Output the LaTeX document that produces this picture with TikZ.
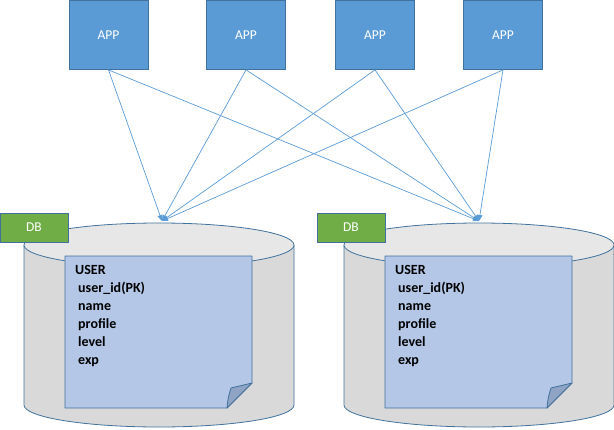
\documentclass[tikz,border=0pt]{standalone}
\usepackage{fontspec}
\setmainfont{Carlito}
\usetikzlibrary{arrows.meta}

\definecolor{appblue}{HTML}{5B9BD5}
\definecolor{edgeblue}{HTML}{41719C}
\definecolor{dbgreen}{HTML}{70AD47}
\definecolor{notefill}{HTML}{B4C7E7}
\definecolor{foldfill}{HTML}{8FA3C4}
\definecolor{cyltop}{HTML}{E7E7E7}
\definecolor{cylside}{HTML}{D9D9D9}

\tikzset{
  app/.style={draw=edgeblue, fill=appblue, text=white, line width=0.8pt,
    minimum width=79pt, minimum height=69pt, inner sep=0pt,
    font=\fontsize{13.5}{16}\selectfont},
  dblabel/.style={draw=edgeblue, fill=dbgreen, text=white, line width=0.8pt,
    minimum width=68pt, minimum height=29pt, inner sep=0pt,
    font=\fontsize{13.5}{16}\selectfont},
  link/.style={draw=appblue, line width=0.7pt, -{Triangle[length=6pt,width=5pt]}},
  cylline/.style={draw=edgeblue, line width=0.8pt},
  note/.style={draw=edgeblue, fill=notefill, line width=0.8pt, line join=round},
  fold/.style={draw=edgeblue, fill=foldfill, line width=0.8pt, line join=round},
  fields/.style={align=left, inner sep=0pt, anchor=north west,
    font=\bfseries\fontsize{14}{18}\selectfont},
}

\begin{document}
\begin{tikzpicture}[x=1pt,y=-1pt]
  \useasboundingbox (0,0) rectangle (614,429);

  % the four apps
  \node[app] (app1) at (108.5,35) {APP};
  \node[app] (app2) at (246,35)   {APP};
  \node[app] (app3) at (375,35)   {APP};
  \node[app] (app4) at (503,35)   {APP};

  % left database
  \fill[cylside] (24,245) -- (24,405)
    arc[start angle=180, end angle=360, x radius=135pt, y radius=22pt] -- (294,245) -- cycle;
  \draw[cylline] (24,245) -- (24,405)
    arc[start angle=180, end angle=360, x radius=135pt, y radius=22pt] -- (294,245);
  \draw[cylline, fill=cyltop] (159,245) ellipse [x radius=135pt, y radius=22pt];
  \filldraw[note] (65,256) -- (252,256) -- (252,383) -- (227,408) -- (65,408) -- cycle;
  \filldraw[fold] (227,408) .. controls (228,398) .. (231,388) .. controls (242,386) .. (252,383) -- cycle;
  \node[fields] (user1) at (75,265)
    {USER\\\hspace*{3pt}user\_id(PK)\\\hspace*{3pt}name\\\hspace*{3pt}profile\\\hspace*{3pt}level\\\hspace*{3pt}exp};
  \node[dblabel] (db1) at (34,227.5) {DB};
  \coordinate (in1) at (162,221);

  % right database
  \fill[cylside] (344,245) -- (344,405)
    arc[start angle=180, end angle=360, x radius=135pt, y radius=22pt] -- (614,245) -- cycle;
  \draw[cylline] (344,245) -- (344,405)
    arc[start angle=180, end angle=360, x radius=135pt, y radius=22pt] -- (614,245);
  \draw[cylline, fill=cyltop] (479,245) ellipse [x radius=135pt, y radius=22pt];
  \filldraw[note] (385,256) -- (572,256) -- (572,383) -- (547,408) -- (385,408) -- cycle;
  \filldraw[fold] (547,408) .. controls (548,398) .. (551,388) .. controls (562,386) .. (572,383) -- cycle;
  \node[fields] (user2) at (395,265)
    {USER\\\hspace*{3pt}user\_id(PK)\\\hspace*{3pt}name\\\hspace*{3pt}profile\\\hspace*{3pt}level\\\hspace*{3pt}exp};
  \node[dblabel] (db2) at (351,227.5) {DB};
  \coordinate (in2) at (479,221);

  % every app talks to both databases
  \draw[link] (app1.south) -- (in1);
  \draw[link] (app1.south) -- (in2);
  \draw[link] (app2.south) -- (in1);
  \draw[link] (app2.south) -- (in2);
  \draw[link] (app3.south) -- (in1);
  \draw[link] (app3.south) -- (in2);
  \draw[link] (app4.south) -- (in1);
  \draw[link] (app4.south) -- (in2);
\end{tikzpicture}
\end{document}
